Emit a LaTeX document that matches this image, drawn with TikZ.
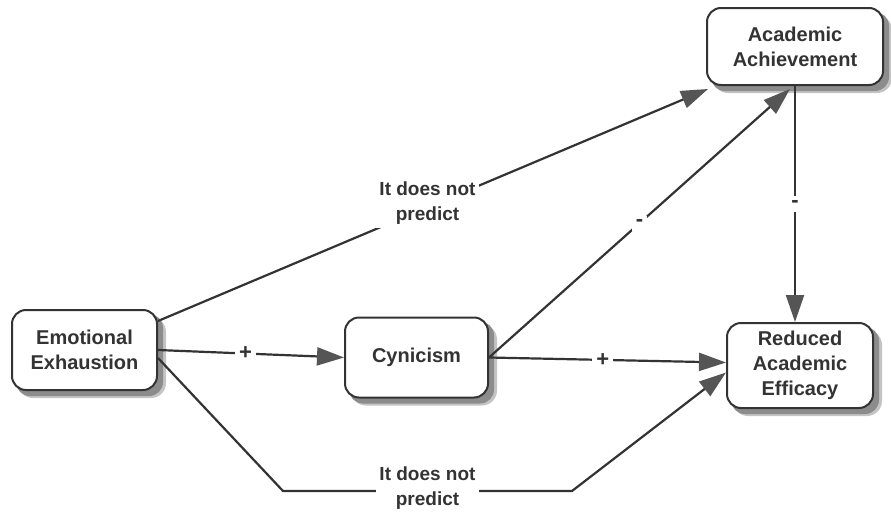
\documentclass[tikz,border=0pt]{standalone}
\usepackage{fontspec}
\setmainfont{Liberation Sans}
\usetikzlibrary{arrows.meta,backgrounds}
\definecolor{ink}{HTML}{333333}
\definecolor{tipgray}{HTML}{555555}
\definecolor{shade}{HTML}{8C8C8C}
\definecolor{shadelight}{HTML}{C4C4C4}
\begin{document}
\begin{tikzpicture}[x=1pt,y=-1pt,
  box/.style={draw=ink, line width=2pt, rounded corners=14pt, fill=white,
    align=center, text=ink, font=\fontsize{20}{25}\selectfont\bfseries},
  link/.style={draw=ink, line width=2.2pt,
    -{Triangle[length=27pt,width=18pt,fill=tipgray,color=tipgray]}},
  lbl/.style={fill=white, text=ink, align=center, inner sep=3pt,
    font=\fontsize{19}{25}\selectfont\bfseries},
  sign/.style={fill=white, text=ink, inner sep=4pt,
    font=\fontsize{22}{24}\selectfont\bfseries},
  boxshadow/.style={fill=shade, rounded corners=14pt},
  boxhalo/.style={fill=shadelight, rounded corners=15pt}]
\useasboundingbox (0,0) rectangle (891,514);

% the four constructs
\node[box, minimum width=145pt, minimum height=80pt] (ee) at (84.5,350) {Emotional\\Exhaustion};
\node[box, minimum width=143pt, minimum height=80pt] (cyn) at (416.5,357.5) {Cynicism};
\node[box, minimum width=176pt, minimum height=77pt] (aa) at (795,46.5) {Academic\\Achievement};
\node[box, minimum width=146pt, minimum height=85pt] (rae) at (800,365.5) {Reduced\\Academic\\Efficacy};

% white page and the soft shadows behind the boxes
\begin{scope}[on background layer]
  \fill[white] (0,0) rectangle (891,514);
  \foreach \n in {ee,cyn,aa,rae}{
    \fill[boxhalo] ([shift={(7pt,-7pt)}]\n.south west) rectangle ([shift={(8pt,-8pt)}]\n.north east);
    \fill[boxshadow] ([shift={(5pt,-5pt)}]\n.south west) rectangle ([shift={(5pt,-5pt)}]\n.north east);
  }
\end{scope}

% bends of the lower path
\coordinate (b1) at (283,491);
\coordinate (b2) at (572,491);

% paths between constructs
\draw[link] ([yshift=-12pt]ee.north east) -- node[lbl, pos=0.49, yshift=4pt] {It does not\\predict}
  ([xshift=2pt,yshift=-3pt]aa.south west);
\draw[link] (ee.east) -- node[sign, pos=0.47] {+} (cyn.west);
\draw[link] ([yshift=-8pt]ee.east) -- (b1) -- node[lbl, yshift=3pt] {It does not\\predict} (b2)
  -- ([yshift=-7pt]rae.west);
\draw[link] (cyn.east) -- node[sign, pos=0.5] {-} ([xshift=-5pt,yshift=-3pt]aa.south);
\draw[link] (cyn.east) -- node[sign, pos=0.48] {+} ([yshift=3pt]rae.west);
\draw[link] (aa.south) -- node[sign, pos=0.5] {-} (aa.south |- rae.north);
\end{tikzpicture}
\end{document}
